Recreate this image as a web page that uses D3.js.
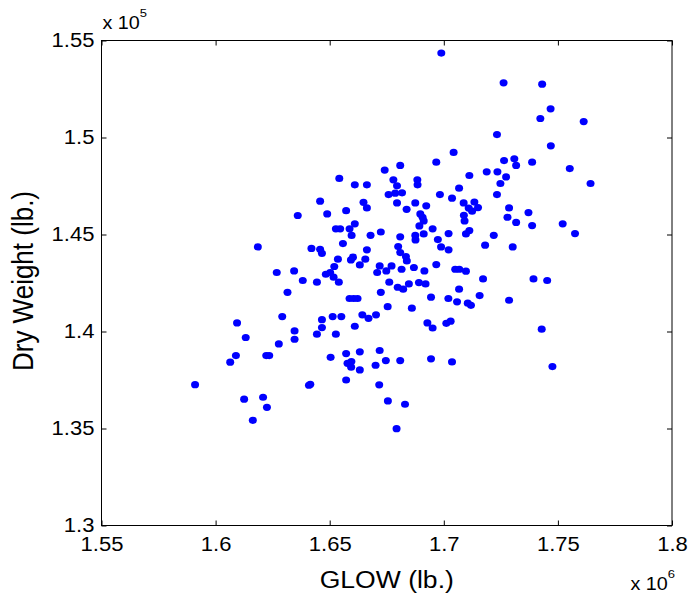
<!DOCTYPE html>
<html>
<head>
<meta charset="utf-8">
<script src="https://cdn.jsdelivr.net/npm/d3@7"></script>
<style>
  html, body { margin: 0; padding: 0; background: #fff; }
  svg { display: block; font-family: "Liberation Sans", Arial, Helvetica, sans-serif; }
  .tick text { fill: #000; }
</style>
</head>
<body>
<svg id="chart" width="690" height="600"></svg>
<script>
// GLOW (x 10^6 lb.) for each vehicle sample
const glow = [
  1.6989, 1.7262, 1.7431, 1.7468, 1.7423, 1.7613, 1.7233,
  1.6094, 1.6089, 1.6064, 1.5910, 1.6125,
  1.7552, 1.7643, 1.7575,
  1.6809, 1.6741, 1.6542, 1.6610, 1.6663, 1.6779, 1.6795, 1.6758, 1.6787, 1.6817,
  1.6795, 1.6458, 1.6648, 1.6663, 1.6360, 1.6489, 1.6572, 1.6527, 1.6546, 1.6610,
  1.6587, 1.6596, 1.6724, 1.6679, 1.6809, 1.6185, 1.6420, 1.6458, 1.6466, 1.6558,
  1.6663, 1.6800, 1.6809, 1.6536, 1.6602, 1.6593, 1.6656, 1.6632, 1.6520, 1.6719,
  1.6748, 1.6708, 1.6771, 1.6815, 1.6268, 1.6344, 1.6483, 1.6502, 1.6517, 1.6540,
  1.6382, 1.6444, 1.6761,
  1.7469, 1.7043, 1.6967, 1.7264, 1.7309, 1.7317, 1.7387, 1.7112, 1.7188, 1.7235,
  1.7273, 1.6884, 1.6885, 1.7248, 1.7067, 1.6983, 1.7036, 1.7233, 1.6875, 1.6923,
  1.6837, 1.7087, 1.7134, 1.7109, 1.7150, 1.7124, 1.7286, 1.7371, 1.6897, 1.6907,
  1.6912, 1.6893, 1.7088, 1.7091, 1.7279, 1.7317, 1.7387, 1.7521, 1.6951, 1.7112,
  1.7097, 1.7021, 1.6875, 1.6912, 1.6876, 1.7219, 1.6974, 1.7181, 1.7302, 1.6988,
  1.7021, 1.6834, 1.6838, 1.6967, 1.6869, 1.6915, 1.7050, 1.7068, 1.7097, 1.7172,
  1.7393, 1.7453, 1.6891, 1.6920, 1.6847,
  1.6315, 1.6292, 1.6132, 1.6277, 1.6346, 1.6346, 1.6222, 1.6235, 1.6208, 1.6225,
  1.6163, 1.6409, 1.6415, 1.6466, 1.6466, 1.6444, 1.6513, 1.6551, 1.6527, 1.6504,
  1.6587, 1.6605, 1.6622, 1.6724, 1.6754, 1.6643, 1.6670, 1.6703, 1.6610, 1.6860,
  1.6944, 1.7020, 1.7058, 1.7067, 1.7105, 1.7119, 1.7157, 1.7286, 1.6928, 1.6951,
  1.7011, 1.7030, 1.7429, 1.7476, 1.6572, 1.6632, 1.6719, 1.6578, 1.6595, 1.6594,
  1.6632, 1.6701, 1.6746, 1.6809, 1.6944, 1.7036, 1.6572, 1.6717, 1.6755, 1.6830,
  1.6793, 1.6798, 1.6822
];

// Dry weight (x 10^5 lb.), same order as glow
const dryWeight = [
  1.5435, 1.5282, 1.5275, 1.5148, 1.5098, 1.5082, 1.5015,
  1.4044, 1.3876, 1.3842, 1.3726, 1.3651,
  1.4840, 1.4763, 1.4505,
  1.4856, 1.4832, 1.4789, 1.4756, 1.4756, 1.4782, 1.4751, 1.4706, 1.4713, 1.4715,
  1.4663, 1.4672, 1.4666, 1.4637, 1.4598, 1.4606, 1.4623, 1.4529, 1.4529, 1.4555,
  1.4529, 1.4495, 1.4513, 1.4496, 1.4488, 1.4436, 1.4428, 1.4424, 1.4403, 1.4453,
  1.4421, 1.4438, 1.4407, 1.4373, 1.4383, 1.4369, 1.4373, 1.4343, 1.4335, 1.4338,
  1.4312, 1.4304, 1.4338, 1.4321, 1.4304, 1.4312, 1.4295, 1.4304, 1.4280, 1.4254,
  1.4263, 1.4254, 1.4254,
  1.4957, 1.4923, 1.4873, 1.4881, 1.4890, 1.4856, 1.4873, 1.4804, 1.4823, 1.4823,
  1.4797, 1.4782, 1.4756, 1.4763, 1.4739, 1.4706, 1.4687, 1.4706, 1.4663, 1.4648,
  1.4630, 1.4663, 1.4667, 1.4636, 1.4639, 1.4620, 1.4637, 1.4613, 1.4606, 1.4589,
  1.4570, 1.4544, 1.4599, 1.4570, 1.4589, 1.4562, 1.4546, 1.4555, 1.4529, 1.4520,
  1.4503, 1.4505, 1.4495, 1.4503, 1.4472, 1.4496, 1.4474, 1.4445, 1.4436, 1.4436,
  1.4421, 1.4386, 1.4364, 1.4345, 1.4330, 1.4312, 1.4321, 1.4321, 1.4311, 1.4271,
  1.4271, 1.4263, 1.4252, 1.4245, 1.4245,
  1.4202, 1.4077, 1.3969, 1.3936, 1.4003, 1.3960, 1.3876, 1.3876, 1.3661, 1.3609,
  1.3542, 1.3723, 1.3728, 1.4061, 1.4020, 1.3986, 1.4077, 1.4077, 1.3986, 1.3867,
  1.4170, 1.4170, 1.4170, 1.4202, 1.4128, 1.4086, 1.4068, 1.4086, 1.4027, 1.4120,
  1.4177, 1.4170, 1.4153, 1.4218, 1.4146, 1.4135, 1.4185, 1.4161, 1.4044, 1.4018,
  1.4042, 1.4053, 1.4012, 1.3819, 1.3886, 1.3895, 1.3902, 1.3836, 1.3845, 1.3816,
  1.3802, 1.3826, 1.3850, 1.3850, 1.3859, 1.3843, 1.3750, 1.3725, 1.3642, 1.3625,
  1.3499, 1.4228, 1.4218
];

// Axis ticks
const xTicks = [1.55, 1.6, 1.65, 1.7, 1.75, 1.8];
const xTickLabels = ["1.55", "1.6", "1.65", "1.7", "1.75", "1.8"];
const yTicks = [1.3, 1.35, 1.4, 1.45, 1.5, 1.55];
const yTickLabels = ["1.3", "1.35", "1.4", "1.45", "1.5", "1.55"];

const svg = d3.select("#chart");
const plot = { left: 101.5, right: 672, top: 40.5, bottom: 525.5 };
const stretch = 1.13;   // horizontal stretch of the lettering

const x = d3.scaleLinear().domain([1.55, 1.8]).range([plot.left, plot.right]);
const y = d3.scaleLinear().domain([1.3, 1.55]).range([plot.bottom, plot.top]);

const points = glow.map((g, i) => ({ g, w: dryWeight[i] }));

// markers
svg.append("g")
  .selectAll("ellipse")
  .data(points)
  .join("ellipse")
  .attr("cx", d => x(d.g))
  .attr("cy", d => y(d.w))
  .attr("rx", 4)
  .attr("ry", 3.6)
  .attr("fill", "#0000ff");

const tickFont = "19.5px";
const labelOf = (ticks, labels) => d => labels[ticks.indexOf(d)];

// bottom axis (inward ticks)
const gx = svg.append("g")
  .attr("transform", `translate(0,${plot.bottom})`)
  .call(d3.axisBottom(x).tickValues(xTicks).tickFormat(labelOf(xTicks, xTickLabels))
    .tickSizeInner(-5).tickSizeOuter(0).tickPadding(12));
gx.select(".domain").remove();
gx.selectAll("text").attr("font-size", tickFont).attr("font-family", null)
  .attr("transform", `scale(${stretch},1)`);

// left axis
const gy = svg.append("g")
  .attr("transform", `translate(${plot.left},0)`)
  .call(d3.axisLeft(y).tickValues(yTicks).tickFormat(labelOf(yTicks, yTickLabels))
    .tickSizeInner(-5).tickSizeOuter(0).tickPadding(7));
gy.select(".domain").remove();
gy.selectAll("text").attr("font-size", tickFont).attr("font-family", null)
  .attr("x", -7 / stretch)
  .attr("transform", `scale(${stretch},1)`);

// top and right axes: ticks only
const gt = svg.append("g")
  .attr("transform", `translate(0,${plot.top})`)
  .call(d3.axisTop(x).tickValues(xTicks).tickFormat("").tickSizeInner(-5).tickSizeOuter(0));
gt.select(".domain").remove();
const gr = svg.append("g")
  .attr("transform", `translate(${plot.right},0)`)
  .call(d3.axisRight(y).tickValues(yTicks).tickFormat("").tickSizeInner(-5).tickSizeOuter(0));
gr.select(".domain").remove();

svg.selectAll(".tick line").attr("stroke", "#000");

// axes box
svg.append("rect")
  .attr("x", plot.left).attr("y", plot.top)
  .attr("width", plot.right - plot.left).attr("height", plot.bottom - plot.top)
  .attr("fill", "none").attr("stroke", "#000").attr("stroke-width", 1);

// axis titles
svg.append("text")
  .attr("transform", `translate(${(plot.left + plot.right) / 2},588) scale(${stretch},1)`)
  .attr("text-anchor", "middle").attr("font-size", "23.5px")
  .text("GLOW (lb.)");

svg.append("text")
  .attr("transform", `translate(33,281) scale(${stretch},1) rotate(-90)`)
  .attr("text-anchor", "middle").attr("font-size", "26px")
  .text("Dry Weight (lb.)");

// exponent multipliers
const xExp = svg.append("text")
  .attr("transform", `translate(675,590) scale(${stretch},1)`)
  .attr("text-anchor", "end").attr("font-size", "17.5px");
xExp.append("tspan").text("x 10");
xExp.append("tspan").attr("dy", -12).attr("font-size", "11.5px").text("6");

const yExp = svg.append("text")
  .attr("transform", `translate(102.5,29) scale(${stretch},1)`)
  .attr("font-size", "17.5px");
yExp.append("tspan").text("x 10");
yExp.append("tspan").attr("dy", -12).attr("font-size", "11.5px").text("5");
</script>
</body>
</html>
